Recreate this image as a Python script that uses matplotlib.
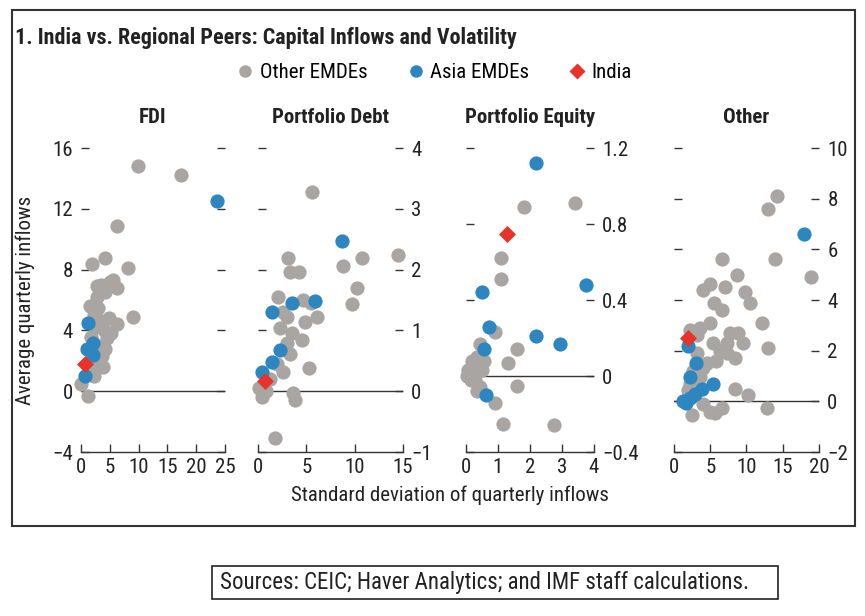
import matplotlib
matplotlib.use('Agg')
import matplotlib.pyplot as plt
import matplotlib.font_manager as fm
from matplotlib.lines import Line2D
from matplotlib.patches import Rectangle

# the original uses a condensed face; take one if the machine has it
NARROW = ['liberationsansnarrow', 'robotocondensed', 'notosans-condensed', 'notosanscondensed',
          'dejavusanscondensed', 'opensans_condensed', 'opensans-condensed']
found = None
for key in NARROW:
    for f in fm.fontManager.ttflist:
        if key in f.fname.lower().replace(' ', ''):
            found = f
            break
    if found:
        break
if found:
    plt.rcParams['font.family'] = [found.name, 'DejaVu Sans']
    plt.rcParams['font.stretch'] = found.stretch
    SCALE = 1.0
else:
    plt.rcParams['font.family'] = ['Liberation Sans', 'DejaVu Sans']
    SCALE = 0.93

GRAY = '#a9a5a2'
BLUE = '#2e86c1'
RED = '#e8332a'
INK = '#333333'
TXT = '#222222'

panels = ['FDI', 'Portfolio Debt', 'Portfolio Equity', 'Other']

# (std dev, average) pairs
fdi_other = [(9.9, 14.8), (17.4, 14.2), (6.2, 10.9), (4.2, 8.75), (2.0, 8.4), (8.2, 8.1),
             (2.7, 6.9), (3.4, 7.0), (5.0, 7.2), (6.3, 6.8), (5.6, 7.3), (4.2, 6.5),
             (1.5, 5.6), (3.0, 5.5), (9.1, 4.9), (6.3, 4.4), (3.5, 4.6), (4.0, 4.0),
             (2.5, 4.2), (4.5, 3.5), (3.2, 3.0), (4.2, 2.8), (3.0, 2.0), (3.9, 1.6),
             (2.2, 1.0), (0.0, 0.5), (1.3, -0.3), (1.8, 3.6), (4.8, 4.8), (2.3, 5.0),
             (3.6, 2.3), (1.6, 1.4), (5.2, 3.8), (2.8, 6.2)]
fdi_asia = [(23.6, 12.5), (1.3, 4.5), (2.1, 3.2), (1.0, 2.8), (2.1, 2.4), (0.7, 1.0), (1.5, 2.7)]
fdi_india = [(0.7, 1.8)]

debt_other = [(5.6, 3.27), (10.8, 2.19), (14.5, 2.24), (8.8, 2.06), (10.2, 1.69), (9.7, 1.43),
              (3.1, 2.19), (3.3, 1.96), (4.2, 1.96), (2.1, 1.55), (4.7, 1.5), (6.1, 1.22),
              (4.9, 1.14), (2.3, 1.04), (3.0, 1.22), (3.5, 0.95), (4.5, 0.84), (3.0, 0.79),
              (2.6, 1.3), (3.3, 0.62), (2.6, 0.31), (5.3, 0.38), (0.1, 0.05), (0.4, -0.1),
              (0.8, 0.0), (3.6, -0.03), (3.8, -0.15), (1.8, -0.77), (5.5, 1.45), (2.0, 0.45),
              (1.2, 0.2)]
debt_asia = [(8.7, 2.47), (3.5, 1.45), (5.9, 1.48), (1.4, 1.3), (2.3, 0.67), (1.4, 0.48), (0.4, 0.31)]
debt_india = [(0.7, 0.16)]

eq_other = [(1.8, 0.89), (3.4, 0.91), (1.1, 0.62), (1.1, 0.51), (0.9, 0.23), (0.44, 0.17),
            (0.34, 0.10), (1.6, 0.14), (1.3, 0.07), (0.06, 0.03), (0.28, 0.05), (0.02, 0.0),
            (0.5, 0.03), (0.28, -0.02), (0.44, -0.06), (0.34, -0.08), (1.6, -0.05),
            (0.9, -0.14), (1.16, -0.25), (2.75, -0.26), (0.2, 0.08), (0.55, 0.08), (0.15, -0.02)]
eq_asia = [(2.2, 1.12), (0.5, 0.44), (3.75, 0.48), (0.72, 0.26), (2.2, 0.21), (2.94, 0.17),
           (0.56, 0.14), (0.63, -0.1)]
eq_india = [(1.27, 0.75)]

oth_other = [(14.2, 8.1), (13.0, 7.6), (13.9, 5.6), (18.9, 4.9), (6.6, 5.6), (8.7, 5.0),
             (4.0, 4.4), (5.0, 4.65), (7.0, 4.5), (9.8, 4.3), (10.5, 3.9), (5.5, 3.9),
             (6.6, 3.6), (12.2, 3.1), (13.0, 2.1), (5.0, 3.1), (3.6, 2.9), (2.2, 2.8),
             (3.2, 2.6), (7.7, 2.7), (8.8, 2.7), (9.5, 2.3), (7.3, 2.3), (5.4, 2.3),
             (6.3, 2.0), (8.4, 1.7), (7.3, 1.9), (5.8, 1.6), (4.5, 1.5), (4.0, 1.3),
             (3.6, 0.95), (2.9, 0.7), (2.2, 0.7), (1.9, 0.43), (8.4, 0.5), (10.2, 0.27),
             (12.8, -0.25), (2.5, -0.55), (5.0, -0.43), (6.6, -0.28), (4.0, -0.1),
             (5.7, -0.45), (3.2, 1.9), (2.6, 1.2)]
oth_asia = [(17.9, 6.6), (1.9, 2.2), (3.0, 1.5), (2.2, 0.95), (5.4, 0.67), (3.9, 0.5),
            (2.9, 0.3), (1.2, 0.0), (2.2, 0.15), (1.6, -0.05)]
oth_india = [(1.9, 2.5)]

xticks = [[0, 5, 10, 15, 20, 25], [0, 5, 10, 15], [0, 1, 2, 3, 4], [0, 5, 10, 15, 20]]
yticks = [[-4, 0, 4, 8, 12, 16], [-1, 0, 1, 2, 3, 4], [-0.4, 0, 0.4, 0.8, 1.2], [-2, 0, 2, 4, 6, 8, 10]]
ytick_labels = [None, None, ['\u22120.4', '0', '0.4', '0.8', '1.2'], None]

series = [(fdi_other, fdi_asia, fdi_india), (debt_other, debt_asia, debt_india),
          (eq_other, eq_asia, eq_india), (oth_other, oth_asia, oth_india)]

# axes boxes in figure fractions (left, width)
boxes = [(0.0936, 0.1665), (0.2983, 0.1676), (0.5387, 0.1480), (0.7792, 0.1676)]
bottom, height = 0.2662, 0.4935

fig = plt.figure(figsize=(8.65, 6.16), dpi=100)

for i, (name, (oth, asia, ind)) in enumerate(zip(panels, series)):
    ax = fig.add_axes([boxes[i][0], bottom, boxes[i][1], height])
    ax.axhline(0, color=INK, lw=1, zorder=1)
    for pts, c, m, s, z in [(oth, GRAY, 'o', 105, 2), (asia, BLUE, 'o', 105, 3), (ind, RED, 'D', 75, 4)]:
        ax.scatter([p[0] for p in pts], [p[1] for p in pts], s=s, c=c, marker=m,
                   linewidths=0, zorder=z, clip_on=False)
    ax.set_xlim(xticks[i][0], xticks[i][-1])
    ax.set_ylim(yticks[i][0], yticks[i][-1])
    ax.set_xticks(xticks[i])
    ax.set_yticks(yticks[i])
    if ytick_labels[i]:
        ax.set_yticklabels(ytick_labels[i])
    for sp in ['left', 'right', 'top']:
        ax.spines[sp].set_visible(False)
    ax.spines['bottom'].set_color(INK)
    ax.spines['bottom'].set_linewidth(1)
    ax.tick_params(axis='x', direction='in', length=6, width=1, color=INK,
                   labelsize=15 * SCALE, pad=4, labelcolor=TXT)
    ax.tick_params(axis='y', direction='in', length=6, width=1, color=INK,
                   left=True, right=True, labelleft=(i == 0), labelright=(i != 0),
                   labelsize=15 * SCALE, pad=6, labelcolor=TXT)
    ax.set_facecolor('none')
    fig.text(boxes[i][0] + boxes[i][1] / 2, 0.81, name, ha='center', va='center',
             fontsize=15 * SCALE, fontweight='bold', color=TXT)

fig.text(0.017, 0.938, '1. India vs. Regional Peers: Capital Inflows and Volatility',
         ha='left', va='center', fontsize=15.8 * SCALE, fontweight='bold', color=TXT)

handles = [Line2D([], [], ls='none', marker='o', ms=9, mfc=GRAY, mec='none'),
           Line2D([], [], ls='none', marker='o', ms=9, mfc=BLUE, mec='none'),
           Line2D([], [], ls='none', marker='D', ms=8, mfc=RED, mec='none')]
fig.legend(handles, ['Other EMDEs', 'Asia EMDEs', 'India'], loc='center',
           bbox_to_anchor=(0.5, 1 - 73 / 616), ncol=3, frameon=False, fontsize=15 * SCALE,
           handletextpad=0.1, columnspacing=1.7, handlelength=1.2)

fig.text(0.029, bottom + height / 2, 'Average quarterly inflows', rotation=90,
         ha='center', va='center', fontsize=15 * SCALE, color=TXT)
fig.text(450 / 865, 1 - 495 / 616, 'Standard deviation of quarterly inflows',
         ha='center', va='center', fontsize=15 * SCALE, color=TXT)

# outer frame and the sources box
fig.patches.append(Rectangle((12 / 865, 1 - 526 / 616), 843 / 865, 516 / 616,
                             transform=fig.transFigure, fill=False, ec=INK, lw=1.5))
fig.patches.append(Rectangle((212 / 865, 1 - 599 / 616), 566 / 865, 33 / 616,
                             transform=fig.transFigure, fill=False, ec=TXT, lw=1.2))
fig.text(220 / 865, 1 - 582 / 616, 'Sources: CEIC; Haver Analytics; and IMF staff calculations.',
         ha='left', va='center', fontsize=16.5 * SCALE, color=TXT)

fig.savefig('out.png', dpi=100)
